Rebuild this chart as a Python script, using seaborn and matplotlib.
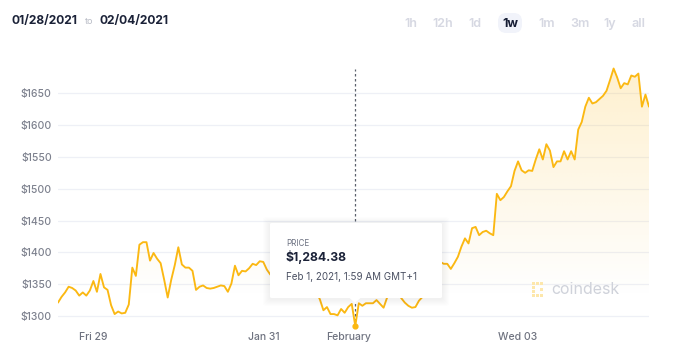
import numpy as np
import pandas as pd
import matplotlib
matplotlib.use("Agg")
import matplotlib.pyplot as plt
import matplotlib.dates as mdates
from matplotlib.patches import FancyBboxPatch, Polygon, Rectangle
from matplotlib.colors import to_rgb
import seaborn as sns

# ---------------- data ----------------
prices = [
    1321, 1330, 1337, 1346, 1344, 1340, 1332, 1337, 1332, 1340,
    1355, 1338, 1366, 1345, 1341, 1317, 1303, 1307, 1304, 1305,
    1318, 1376, 1363, 1412, 1416, 1416, 1387, 1399, 1390, 1383,
    1357, 1329, 1357, 1380, 1408, 1381, 1376, 1376, 1371, 1341,
    1346, 1348, 1344, 1343, 1344, 1346, 1348, 1347, 1338, 1351,
    1379, 1364, 1371, 1370, 1375, 1382, 1380, 1386, 1385, 1373,
    1365, 1370, 1358, 1352, 1345, 1350, 1342, 1348, 1340, 1345,
    1338, 1342, 1335, 1338, 1326, 1309, 1314, 1303, 1303, 1301,
    1311, 1305, 1314, 1319, 1284.38, 1320, 1316, 1320, 1320, 1320,
    1325, 1319, 1313, 1329, 1340, 1345, 1338, 1328, 1321, 1316,
    1313, 1314, 1324, 1330, 1340, 1350, 1362, 1372, 1385, 1382,
    1382, 1374, 1383, 1393, 1409, 1422, 1414, 1438, 1440, 1427,
    1432, 1434, 1430, 1427, 1492, 1482, 1487, 1496, 1504, 1528,
    1543, 1529, 1525, 1529, 1528, 1546, 1562, 1546, 1570, 1560,
    1534, 1543, 1543, 1559, 1546, 1559, 1546, 1593, 1605, 1629,
    1643, 1634, 1636, 1641, 1646, 1654, 1671, 1689, 1675, 1658,
    1666, 1664, 1678, 1676, 1681, 1629, 1648, 1629,
]
start_time = "2021-01-28 13:59"
tick_dates = ["2021-01-29", "2021-01-31", "2021-02-01", "2021-02-03"]
tick_labels = ["Fri 29", "Jan 31", "February", "Wed 03"]
y_ticks = [1300, 1350, 1400, 1450, 1500, 1550, 1600, 1650]
timeframes = ["1h", "12h", "1d", "1w", "1m", "3m", "1y", "all"]
active_timeframe = "1w"
date_from = "01/28/2021"
date_to = "02/04/2021"
hover_index = 84
hover_price_text = "$1,284.38"
hover_time_text = "Feb 1, 2021, 1:59 AM GMT+1"

times = pd.date_range(start_time, periods=len(prices), freq="h")
df = pd.DataFrame({"time": times, "price": prices})

# ---------------- style ----------------
sns.set_style("white")
plt.rcParams["font.family"] = ["Inter", "DejaVu Sans"]

W, H = 693, 358
fig = plt.figure(figsize=(W / 100, H / 100), dpi=100)
fig.patch.set_facecolor("white")

def fx(px):
    return px / W

def fy(py):
    return 1 - py / H

LINE = "#FBB812"
ax = fig.add_axes([fx(58), fy(328.7), fx(649) - fx(58), fy(61.5) - fy(328.7)])
ax.set_facecolor("none")

sns.lineplot(data=df, x="time", y="price", ax=ax, color=LINE, lw=1.35, zorder=4)

ymin, ymax = 1280, 1700
ax.set_xlim(times[0], times[-1])
ax.set_ylim(ymin, ymax)

# gradient fill under the curve
xnum = mdates.date2num(times)
verts = [(xnum[0], ymin)] + list(zip(xnum, prices)) + [(xnum[-1], ymin)]
poly = Polygon(verts, closed=True, facecolor="none", edgecolor="none")
ax.add_patch(poly)
yy = np.linspace(ymin, ymax, 300)
alpha = np.clip((yy - 1330) / (1650 - 1330), 0, None) * 0.22
rgb = to_rgb("#FCC23A")
grad = np.zeros((300, 2, 4))
grad[..., 0], grad[..., 1], grad[..., 2] = rgb
grad[..., 3] = alpha[:, None]
im = ax.imshow(grad, extent=[xnum[0], xnum[-1], ymin, ymax], origin="lower",
               aspect="auto", zorder=1, interpolation="bilinear")
im.set_clip_path(poly)

# grid
for v in y_ticks:
    ax.axhline(v, color="#eef0f6", lw=0.9, zorder=0)

ax.set_yticks(y_ticks)
ax.set_yticklabels([f"${v}" for v in y_ticks], color="#7d818e", fontsize=7.5,
                   fontweight="medium")
ax.set_xticks(mdates.date2num(pd.to_datetime(tick_dates)))
ax.set_xticklabels(tick_labels, color="#6f7380", fontsize=7.5, fontweight="medium")
ax.tick_params(axis="y", length=0, pad=4.5)
ax.tick_params(axis="x", length=0, pad=2.5)
ax.set_xlabel("")
ax.set_ylabel("")
for s in ax.spines.values():
    s.set_visible(False)

# hover line and marker
hx = xnum[hover_index]
ax.plot([hx, hx], [prices[hover_index], 1688], color="#5b606c", lw=0.9,
        dashes=(2, 2), zorder=3)
ax.scatter([hx], [prices[hover_index]], s=12, color=LINE, zorder=6)

# watermark
fig.text(fx(551), fy(289), "coindesk", fontsize=11.5, color="#cfd2da",
         va="center", ha="left", zorder=2)
for (lx, ly) in [(532, 282), (536, 282), (540, 282), (532, 286), (532, 290),
                 (532, 294), (536, 294), (540, 294), (540, 288)]:
    fig.add_artist(Rectangle((fx(lx), fy(ly + 3)), fx(3), 3 / H,
                             transform=fig.transFigure, color="#fde7ab", lw=0, zorder=2))

# tooltip box with soft shadow
bx0, by0, bx1, by1 = 270, 223, 442, 298
for e in range(7, 0, -1):
    fig.add_artist(FancyBboxPatch((fx(bx0 - e), fy(by1 + e + 1)),
                                  fx(bx1 - bx0 + 2 * e), (by1 - by0 + 2 * e) / H,
                                  boxstyle="round,pad=0,rounding_size=0.006",
                                  transform=fig.transFigure, facecolor="#1c2340",
                                  alpha=0.009, lw=0, zorder=7))
fig.add_artist(FancyBboxPatch((fx(bx0), fy(by1)), fx(bx1 - bx0), (by1 - by0) / H,
                              boxstyle="round,pad=0,rounding_size=0.003",
                              transform=fig.transFigure, facecolor="white",
                              edgecolor="none", lw=0, zorder=8))
tri = Polygon([(fx(349), fy(by1 - 0.5)), (fx(361), fy(by1 - 0.5)), (fx(355), fy(by1 + 5))],
              closed=True, transform=fig.transFigure, facecolor="white",
              edgecolor="none", zorder=9)
fig.add_artist(tri)
fig.text(fx(286), fy(243), "PRICE", fontsize=5.8, color="#6b7080", va="center",
         ha="left", zorder=10)
fig.text(fx(285), fy(257), hover_price_text, fontsize=8.8, fontweight="bold",
         color="#1b2238", va="center", ha="left", zorder=10)
fig.text(fx(286), fy(277), hover_time_text, fontsize=7.1, color="#4b5163",
         va="center", ha="left", zorder=10)

# header
fig.text(fx(12), fy(21), date_from, fontsize=8.7, fontweight="bold",
         color="#1b2238", va="center", ha="left")
fig.text(fx(85), fy(22), "to", fontsize=6.5, color="#b9bcc6", va="center", ha="left")
fig.text(fx(100), fy(21), date_to, fontsize=8.7, fontweight="bold",
         color="#1b2238", va="center", ha="left")

tf_x = [411, 443, 475, 510, 547, 580, 610, 638]
for lab, xx in zip(timeframes, tf_x):
    if lab == active_timeframe:
        fig.add_artist(FancyBboxPatch((fx(xx - 12), fy(33)), fx(24), 20 / H,
                                      boxstyle="round,pad=0,rounding_size=0.012",
                                      transform=fig.transFigure,
                                      facecolor="#f1f3fa", lw=0, zorder=1,
                                      mutation_aspect=W / H))
        fig.text(fx(xx), fy(24), lab, fontsize=9, fontweight="bold",
                 color="#151c33", ha="center", va="center", zorder=2)
    else:
        fig.text(fx(xx), fy(24), lab, fontsize=9, fontweight="semibold",
                 color="#d6d8e2", ha="center", va="center")

fig.savefig("out.png", dpi=100)
